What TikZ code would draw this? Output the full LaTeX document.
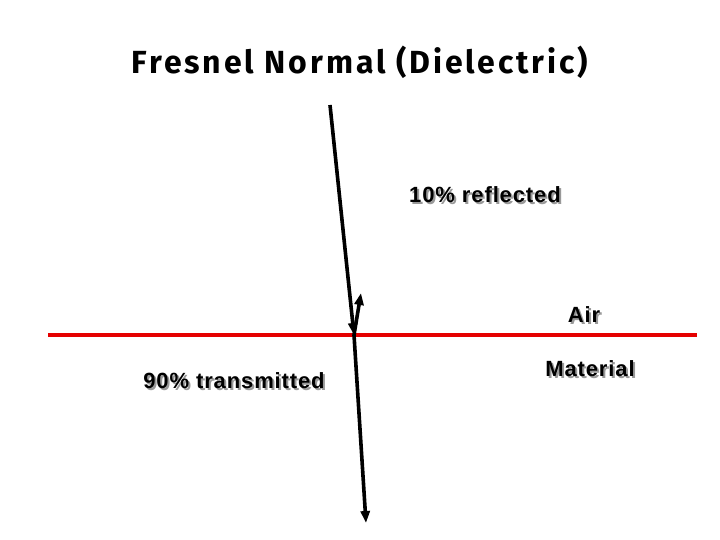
\documentclass[tikz,border=0pt]{standalone}
\usepackage{fontspec}
\setmainfont{Liberation Sans}
\newfontfamily\lblfont[LetterSpace=4]{Liberation Sans}
\newfontfamily\titlefont[LetterSpace=9]{Fira Sans}
\usetikzlibrary{arrows.meta}
\newcommand{\shadowtext}[1]{\makebox[0pt][l]{\hspace{2pt}\raisebox{-2pt}{\color{black!40}#1}}#1}
\tikzset{
  ray/.style={line width=3.6pt, -{Triangle[length=12pt,width=9pt]}},
  lbl/.style={font=\lblfont\bfseries\fontsize{22}{26}\selectfont, text=black},
}
\begin{document}
\begin{tikzpicture}[x=1pt,y=-1pt]
\useasboundingbox (0,0) rectangle (720,540);
\node[font=\titlefont\bfseries\fontsize{32}{36}\selectfont] (title) at (360,62) {Fresnel Normal (Dielectric)};
\coordinate (iL) at (48,335);
\coordinate (iR) at (697,335);
\draw[red!90!black, line width=4pt] (iL) -- (iR);
\coordinate (src) at (330,105);
\coordinate (hit) at (354,335);
\coordinate (refl) at (361,293);
\coordinate (trans) at (366,523);
\draw[ray] (src) -- (hit);
\draw[ray] (hit) -- (refl);
\draw[ray] (hit) -- (trans);
\node[lbl] (r) at (485,196) {\shadowtext{10\% reflected}};
\node[lbl] (a) at (584,316) {\shadowtext{Air}};
\node[lbl] (m) at (590,370) {\shadowtext{Material}};
\node[lbl] (t) at (234,382) {\shadowtext{90\% transmitted}};
\end{tikzpicture}
\end{document}
